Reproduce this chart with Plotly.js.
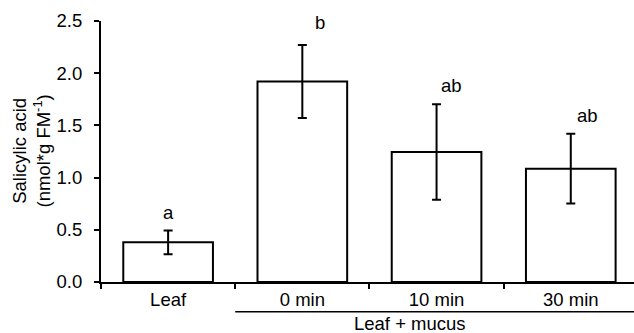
<!DOCTYPE html>
<html>
<head>
<meta charset="utf-8">
<script src="https://cdn.plot.ly/plotly-3.0.1.min.js"></script>
<style>html,body{margin:0;padding:0;background:#fff;}#chart{width:634px;height:333px;}</style>
</head>
<body>
<div id="chart"></div>
<script>
var categories = ["Leaf", "0 min", "10 min", "30 min"];
var salicylic = [0.38, 1.92, 1.245, 1.085];
var errors = [0.113, 0.35, 0.457, 0.334];
var letters = ["a", "b", "ab", "ab"];
var groupLabel = "Leaf + mucus";
var yTitle = "Salicylic acid<br>(nmol*g FM<sup>-1</sup>)";

var FONT = "Liberation Sans, Arial, sans-serif";
var FS = 18.5;
var letterXShift = [0, 18, 15, 17];
var letterYShift = [6, 10, 6, 6];

var trace = {
  type: "bar",
  x: categories,
  y: salicylic,
  width: 0.668,
  marker: {color: "#ffffff", line: {color: "#000000", width: 2}},
  error_y: {type: "data", array: errors, visible: true, color: "#000000", thickness: 2, width: 4.5},
  hoverinfo: "skip"
};

var annotations = categories.map(function (c, i) {
  return {
    x: c, y: salicylic[i] + errors[i], xref: "x", yref: "y",
    text: letters[i], showarrow: false, yanchor: "bottom",
    xshift: letterXShift[i], yshift: letterYShift[i],
    font: {family: FONT, size: FS, color: "#000"}
  };
});
annotations.push({
  x: 0, y: 0.5, xref: "paper", yref: "paper", xshift: -70,
  text: yTitle, textangle: -90, showarrow: false,
  xanchor: "center", yanchor: "middle",
  font: {family: FONT, size: FS, color: "#000"}
});
annotations.push({
  x: 1.8, y: -0.114, xref: "x", yref: "paper",
  text: groupLabel, showarrow: false, yanchor: "top", yshift: 0, borderpad: 0,
  font: {family: FONT, size: FS, color: "#000"}
});

var layout = {
  width: 634, height: 333,
  margin: {l: 100.5, r: 0, t: 21, b: 50.5, autoexpand: false},
  paper_bgcolor: "#ffffff", plot_bgcolor: "#ffffff",
  showlegend: false,
  font: {family: FONT, size: FS, color: "#000"},
  xaxis: {
    type: "category", range: [-0.5, 3.471], automargin: false,
    showline: true, linecolor: "#000", linewidth: 2,
    ticks: "outside", ticklen: 5, tickwidth: 2, tickcolor: "#000",
    tickson: "boundaries", showgrid: false, zeroline: false,
    tickfont: {family: FONT, size: FS, color: "#000"}
  },
  yaxis: {
    range: [0, 2.5], automargin: false, dtick: 0.5, tickformat: ".1f",
    showline: true, linecolor: "#000", linewidth: 2,
    ticks: "outside", ticklen: 5, tickwidth: 2, tickcolor: "#000",
    showgrid: false, zeroline: false, ticklabelstandoff: 8,
    tickfont: {family: FONT, size: FS, color: "#000"}
  },
  shapes: [{
    type: "line", xref: "x", yref: "paper",
    x0: 0.5, x1: 3.6, y0: -0.114, y1: -0.114,
    line: {color: "#000", width: 1.5}
  }],
  annotations: annotations
};

Plotly.newPlot("chart", [trace], layout, {staticPlot: true, displayModeBar: false});
</script>
</body>
</html>
